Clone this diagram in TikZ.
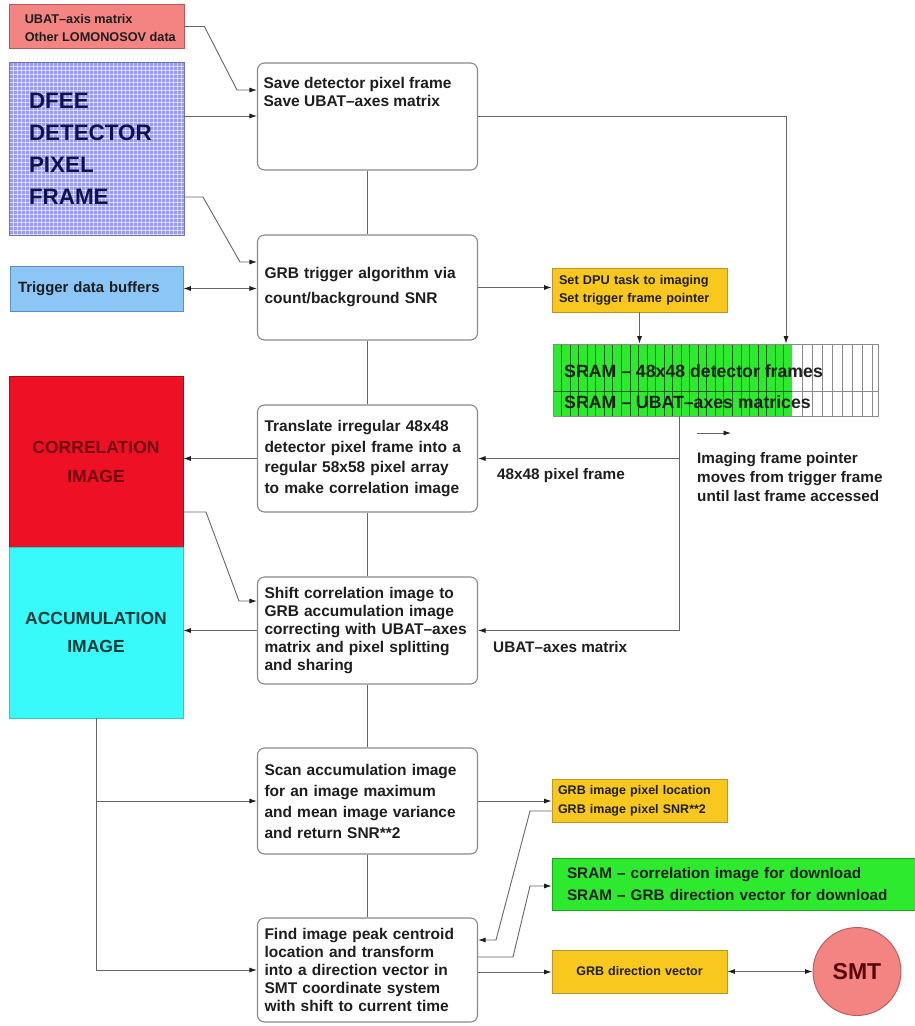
\documentclass[tikz,border=0pt]{standalone}
\usepackage{fontspec}
\setmainfont{Liberation Sans}
\usetikzlibrary{arrows.meta,backgrounds,calc}

\definecolor{pinkfill}{HTML}{F48482}
\definecolor{pinkline}{HTML}{B45A5A}
\definecolor{lav}{HTML}{9A9AF0}
\definecolor{lavtext}{HTML}{12124A}
\definecolor{skyfill}{HTML}{8CC6F6}
\definecolor{skyline}{HTML}{5E8EC0}
\definecolor{gold}{HTML}{F8C81E}
\definecolor{goldline}{HTML}{B8962A}
\definecolor{sramgreen}{HTML}{2EEA2E}
\definecolor{sramgrid}{HTML}{1C5C1C}
\definecolor{corrred}{HTML}{EE1024}
\definecolor{corrtext}{HTML}{700810}
\definecolor{acccyan}{HTML}{38FAFA}
\definecolor{acctext}{HTML}{083A3A}
\definecolor{wiregray}{HTML}{666666}
\definecolor{boxline}{HTML}{8A8A8A}
\definecolor{ink}{HTML}{1E1E1E}

% bold sans at a given size / baseline skip
\newcommand\bfsz[2]{\fontsize{#1}{#2}\selectfont\bfseries}

\tikzset{
  wire/.style={draw=wiregray, line width=0.9pt},
  tip/.style={},
  arr/.style={wire, -{Latex[length=7.5pt,width=5pt,color=ink]}},
  darr/.style={wire, {Latex[length=7.5pt,width=5pt,color=ink]}-{Latex[length=7.5pt,width=5pt,color=ink]}},
  procbox/.style={draw=boxline, line width=1.1pt, rounded corners=7pt, fill=white,
    minimum width=220pt, text width=206pt, align=left, inner sep=0pt, text=ink},
  colbox/.style={rectangle, inner sep=0pt, align=left, text=ink},
  lbl/.style={inner sep=0pt, text=ink, font=\bfsz{15.3}{19}, align=left},
}

\begin{document}
\begin{tikzpicture}[x=1pt, y=-1pt]
\useasboundingbox (0,0) rectangle (915,1026);

% ---------- input blocks on the left ----------
\node[colbox, fill=pinkfill, draw=pinkline, line width=0.8pt,
      minimum width=175pt, minimum height=44pt] (ubat) at (96.5,26.5) {};
\node[anchor=west, inner sep=0pt, align=left, text=ink, font=\bfsz{12.7}{18}]
  (ubattext) at ($(ubat.west)+(16,1.5)$) {UBAT–axis matrix\\Other LOMONOSOV data};

\node[colbox, draw=lav!75!black, line width=0.5pt,
      minimum width=175pt, minimum height=173pt, text width=135pt,
      text=lavtext, font=\bfsz{22.4}{32}] (dfee) at (96.5,148.5)
      {DFEE\\DETECTOR\\PIXEL\\FRAME};
\begin{scope}[on background layer]
  \fill[lav] (dfee.north west) rectangle (dfee.south east);
  \foreach \x in {13,17,...,181}
    \draw[white, line width=0.5pt, opacity=0.6] (\x,62) -- (\x,235);
  \foreach \y in {66,70,...,234}
    \draw[white, line width=0.5pt, opacity=0.6] (9,\y) -- (184,\y);
\end{scope}

\node[colbox, fill=skyfill, draw=skyline, line width=0.8pt,
      minimum width=173pt, minimum height=45pt, text width=157pt,
      font=\bfsz{14.9}{18}] (buf) at (96.5,288.5) {Trigger data buffers};

\node[colbox, fill=corrred, draw=corrred!70!black, line width=0.6pt,
      minimum width=174pt, minimum height=171pt, text width=160pt, align=center,
      text=corrtext, font=\bfsz{17.5}{29}] (corr) at (96,461.5)
      {CORRELATION\\IMAGE};
\node[colbox, fill=acccyan, draw=acccyan!80!black, line width=0.6pt,
      minimum width=174pt, minimum height=171pt, text width=160pt, align=center,
      text=acctext, font=\bfsz{17.5}{28}] (acc) at (96,632.5)
      {ACCUMULATION\\IMAGE};

% ---------- processing chain ----------
\node[procbox, minimum height=107pt] (save) at (367.5,116.5) {};
\node[anchor=north west, inner sep=0pt, align=left, text=ink, font=\bfsz{15.5}{18}]
  (savetext) at ($(save.north west)+(6.5,14.5)$) {Save detector pixel frame\\Save UBAT–axes matrix};

\node[procbox, minimum height=105pt, font=\bfsz{15.5}{25}] (trig) at (367.5,287.5)
  {GRB trigger algorithm via\\count/background SNR};

\node[procbox, minimum height=107pt, font=\bfsz{15.5}{20.7}] (transl) at (367.5,458.5)
  {Translate irregular 48x48\\detector pixel frame into a\\regular 58x58 pixel array\\to make correlation image};

\node[procbox, minimum height=107pt, font=\bfsz{15.5}{18}] (shift) at (367.5,630.5)
  {Shift correlation image to\\GRB accumulation image\\correcting with UBAT–axes\\matrix and pixel splitting\\and sharing};

\node[procbox, minimum height=106pt, font=\bfsz{15.5}{21}] (scan) at (367.5,801)
  {Scan accumulation image\\for an image maximum\\and mean image variance\\and return SNR**2};

\node[procbox, minimum height=104pt, font=\bfsz{15.5}{18}] (find) at (367.5,970)
  {Find image peak centroid\\location and transform\\into a direction vector in\\SMT coordinate system\\with shift to current time};

% ---------- right-hand blocks ----------
\node[colbox, fill=gold, draw=goldline, line width=0.8pt,
      minimum width=175pt, minimum height=44pt, text width=161pt,
      font=\bfsz{12.7}{18}] (setdpu) at (639.5,290)
      {Set DPU task to imaging\\Set trigger frame pointer};

\node[draw=boxline, line width=0.8pt, minimum width=325pt, minimum height=72pt,
      inner sep=0pt] (sram) at (715.5,380) {};
\begin{scope}[on background layer]
  \fill[sramgreen] (sram.north west) rectangle (792,416);
  \foreach \i in {1,...,27}
    \draw[sramgrid, line width=0.7pt] (553+8.54*\i,344) -- (553+8.54*\i,416);
  \foreach \x in {802,812,...,872}
    \draw[boxline, line width=0.8pt] (\x,344) -- (\x,416);
  \draw[sramgrid, line width=0.7pt] (553,391) -- (792,391);
  \draw[boxline, line width=0.8pt] (792,391) -- (878,391);
\end{scope}
\node[anchor=west, inner sep=0pt, text=ink, font=\bfsz{17.7}{20}] (sramA) at (564,371)
  {SRAM – 48x48 detector frames};
\node[anchor=west, inner sep=0pt, text=ink, font=\bfsz{17.7}{20}] (sramB) at (564,402)
  {SRAM – UBAT–axes matrices};

\node[colbox, fill=gold, draw=goldline, line width=0.8pt,
      minimum width=175pt, minimum height=43pt, text width=163pt,
      font=\bfsz{12.5}{19}] (gpix) at (639.5,800.5)
      {GRB image pixel location\\GRB image pixel SNR**2};

\node[colbox, fill=sramgreen, draw=sramgreen!70!black, line width=0.6pt,
      minimum width=363pt, minimum height=52pt, text width=333pt,
      font=\bfsz{15.3}{22}] (dl) at (733.5,884)
      {SRAM – correlation image for download\\SRAM – GRB direction vector for download};

\node[colbox, fill=gold, draw=goldline, line width=0.8pt,
      minimum width=175pt, minimum height=43pt, text width=163pt, align=center,
      font=\bfsz{12.5}{15}] (gdir) at (639.5,971.5) {GRB direction vector};

\node[circle, fill=pinkfill, draw=pinkline, line width=0.9pt, minimum size=88pt,
      inner sep=0pt, text=corrtext!80!black, font=\bfsz{23}{26}] (smt) at (857,971.5) {SMT};

% ---------- free labels ----------
\node[lbl, anchor=west] (lblframe) at (497,476) {48x48 pixel frame};
\node[lbl, anchor=west] (lblaxes) at (493,647) {UBAT–axes matrix};
\node[lbl, anchor=north west] (lblptr) at (697,452)
  {Imaging frame pointer\\moves from trigger frame\\until last frame accessed};
\coordinate (ptrA) at (697,433);
\coordinate (ptrB) at (731,433);
\draw[arr] (ptrA) -- (ptrB);

% ---------- connectors ----------
\draw[arr] (ubat.east) -- ++(20,0) -- (237,90) -- (save.west |- 0,90);
\draw[arr] (dfee.east |- 0,116) -- (save.west |- 0,116);
\draw[arr] (dfee.east |- 0,197) -- (203,197) -- (240,262) -- (trig.west |- 0,262);
\draw[darr] (buf.east) -- (trig.west |- buf.east);

\draw[wire] (save.south) -- (trig.north);
\draw[wire] (trig.south) -- (transl.north);
\draw[wire] (transl.south) -- (shift.north);
\draw[wire] (shift.south) -- (scan.north);
\draw[wire] (scan.south) -- (find.north);

\draw[arr] (save.east) -| (786,0 |- sram.north);
\draw[arr] (trig.east) -- (setdpu.west |- trig.east);
\draw[arr] (setdpu.south) -- (setdpu.south |- sram.north);

\coordinate (tap) at (679,0 |- sram.south);
\draw[arr] (tap) |- (shift.east);
\draw[arr] (679,0 |- transl.east) -- (transl.east);

\draw[arr] (transl.west) -- (corr.east |- transl.west);
\draw[arr] (corr.east |- 0,512) -- (206,512) -- (239,601) -- (shift.west |- 0,601);
\draw[arr] (shift.west) -- (acc.east |- shift.west);

\draw[arr] (acc.south) |- (find.west);
\draw[arr] (acc.south |- scan.west) -- (scan.west);

\draw[arr] (scan.east) -- (gpix.west |- scan.east);
\draw[arr] (gpix.west |- 0,811) -- (530,811) -- (496,940) -- (find.east |- 0,940);
\draw[arr] (find.east |- 0,957) -- (513,957) -- (530,886) -- (dl.west |- 0,886);
\draw[arr] (find.east |- 0,972) -- (gdir.west |- 0,972);
\draw[darr] (gdir.east) -- (smt.west);
\end{tikzpicture}
\end{document}
